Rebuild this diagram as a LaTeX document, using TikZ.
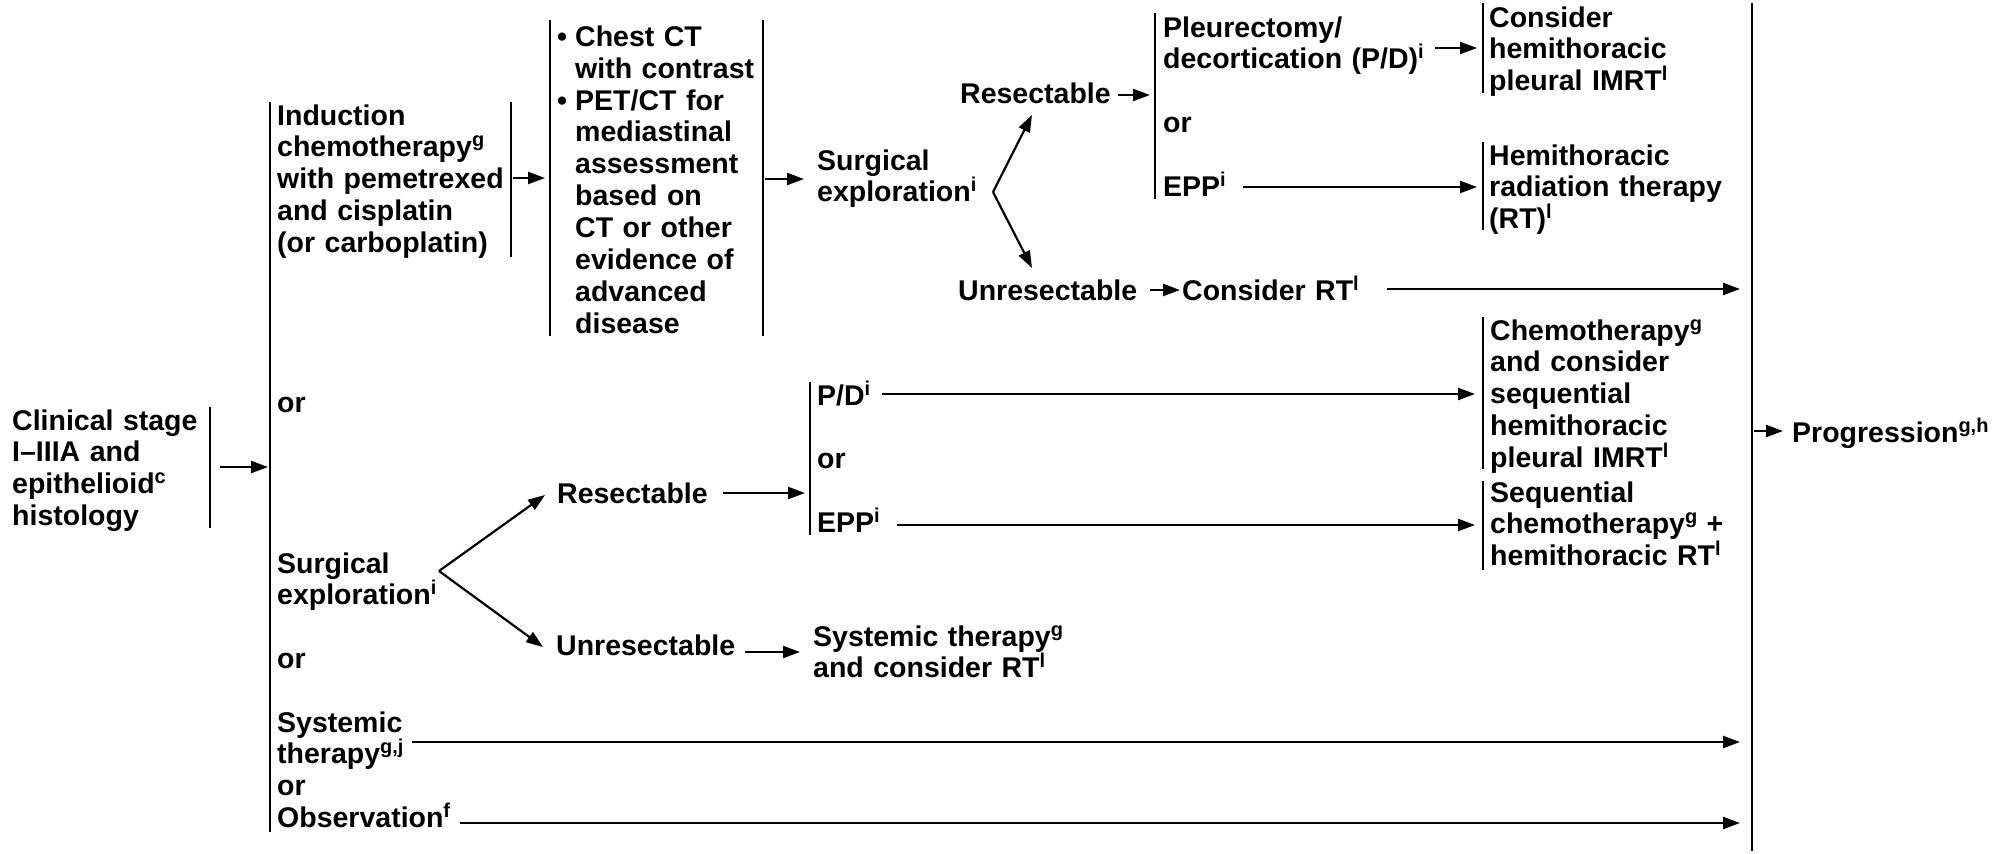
\documentclass[tikz,border=0pt]{standalone}
\usepackage{fontspec}
\setmainfont{Liberation Sans}
\usetikzlibrary{arrows.meta}
\newcommand\sups[1]{\raisebox{10pt}{\fontsize{20pt}{20pt}\selectfont #1}}
\begin{document}
\begin{tikzpicture}[x=1pt,y=-1pt,
  txt/.style={inner sep=0pt, anchor=base west, align=left, text width=330pt,
     font=\fontsize{28.5pt}{31.9pt}\selectfont\bfseries},
  bar/.style={line width=2.6pt},
  arr/.style={line width=2.2pt, -{Triangle[length=17pt,width=12pt]}}]
\useasboundingbox (0,0) rectangle (2011,854);

% ---------- text nodes ----------
\node[txt] (clin) at (12,430) {Clinical stage\\I–IIIA and\\epithelioid\sups{c}\\histology};
\node[txt] (ind) at (277,125) {Induction\\chemotherapy\sups{g}\\with pemetrexed\\and cisplatin\\(or carboplatin)};
\node[txt] (or1) at (277,412) {or};
\node[txt] (surg2) at (277,573) {Surgical\\exploration\sups{i}};
\node[txt] (or2) at (277,668) {or};
\node[txt] (sysobs) at (277,732) {Systemic\\therapy\sups{g,j}\\or\\Observation\sups{f}};
\node[txt] (tests) at (557,46.2) {\makebox[18pt][l]{•}Chest CT\\\hspace*{18pt}with contrast\\\makebox[18pt][l]{•}PET/CT for\\\hspace*{18pt}mediastinal\\\hspace*{18pt}assessment\\\hspace*{18pt}based on\\\hspace*{18pt}CT or other\\\hspace*{18pt}evidence of\\\hspace*{18pt}advanced\\\hspace*{18pt}disease};
\node[txt] (surg1) at (817,170) {Surgical\\exploration\sups{i}};
\node[txt] (res1) at (960,103) {Resectable};
\node[txt] (unres1) at (958,300) {Unresectable};
\node[txt] (pd1) at (1163,37) {Pleurectomy/\\decortication (P/D)\sups{i}\\[31.9pt]or\\[31.9pt]EPP\sups{i}};
\node[txt] (cons1) at (1489,27) {Consider\\hemithoracic\\pleural IMRT\sups{l}};
\node[txt] (hemi) at (1489,165) {Hemithoracic\\radiation therapy\\(RT)\sups{l}};
\node[txt] (consrt) at (1182,300) {Consider RT\sups{l}};
\node[txt] (res2) at (557,503) {Resectable};
\node[txt] (unres2) at (556,655) {Unresectable};
\node[txt] (pd2) at (817,405) {P/D\sups{i}\\[31.9pt]or\\[31.9pt]EPP\sups{i}};
\node[txt] (sysrt) at (813,646) {Systemic therapy\sups{g}\\and consider RT\sups{l}};
\node[txt] (chemo) at (1490,340) {Chemotherapy\sups{g}\\and consider\\sequential\\hemithoracic\\pleural IMRT\sups{l}};
\node[txt] (seq) at (1490,502) {Sequential\\chemotherapy\sups{g} +\\hemithoracic RT\sups{l}};
\node[txt] (prog) at (1792,442) {Progression\sups{g,h}};

% ---------- bars ----------
\coordinate (clT) at (210,407); \coordinate (clB) at (210,528);
\coordinate (mT) at (270,102);  \coordinate (mB) at (270,832);
\coordinate (inT) at (511,102); \coordinate (inB) at (511,257);
\coordinate (t1T) at (550,20);  \coordinate (t1B) at (550,336);
\coordinate (t2T) at (763,20);  \coordinate (t2B) at (763,336);
\coordinate (p1T) at (1155,13); \coordinate (p1B) at (1155,199);
\coordinate (c1T) at (1483,3);  \coordinate (c1B) at (1483,93);
\coordinate (hmT) at (1483,142); \coordinate (hmB) at (1483,230);
\coordinate (p2T) at (810,382); \coordinate (p2B) at (810,535);
\coordinate (chT) at (1483,317); \coordinate (chB) at (1483,469);
\coordinate (sqT) at (1483,481); \coordinate (sqB) at (1483,570);
\coordinate (pgT) at (1752,3);  \coordinate (pgB) at (1752,851);
\foreach \a/\b in {clT/clB,mT/mB,inT/inB,t1T/t1B,t2T/t2B,p1T/p1B,c1T/c1B,hmT/hmB,p2T/p2B,chT/chB,sqT/sqB,pgT/pgB}
  \draw[bar] (\a) -- (\b);

% ---------- connector start points ----------
\coordinate (s1) at (220,467);
\coordinate (s2) at (513,178);
\coordinate (s3) at (765,179);
\coordinate (v1) at (993,192);
\coordinate (r1tip) at (1032,115);
\coordinate (u1tip) at (1032,268);
\coordinate (s5) at (1118,95);
\coordinate (s6) at (1435,48);
\coordinate (s7) at (1243,187);
\coordinate (s8) at (1150,290);
\coordinate (s9) at (1387,289);
\coordinate (v2) at (439,571);
\coordinate (r2tip) at (545,495);
\coordinate (u2tip) at (543,647);
\coordinate (s10) at (723,493);
\coordinate (s11) at (882,394);
\coordinate (s12) at (897,525);
\coordinate (s13) at (745,652);
\coordinate (s14) at (412,742);
\coordinate (s15) at (460,823);
\coordinate (s16) at (1754,431);

% ---------- connectors ----------
\draw[arr] (s1) -- ([xshift=-2pt]s1 -| mT);
\draw[arr] (s2) -- ([xshift=-5pt]s2 -| t1T);
\draw[arr] (s3) -- ([xshift=-13pt]s3 -| surg1.west);
\draw[arr] (v1) -- (r1tip);
\draw[arr] (v1) -- (u1tip);
\draw[arr] (s5) -- ([xshift=-5pt]s5 -| p1T);
\draw[arr] (s6) -- ([xshift=-6pt]s6 -| c1T);
\draw[arr] (s7) -- ([xshift=-6pt]s7 -| hmT);
\draw[arr] (s8) -- ([xshift=-2pt]s8 -| consrt.west);
\draw[arr] (s9) -- ([xshift=-12pt]s9 -| pgT);
\draw[arr] (v2) -- (r2tip);
\draw[arr] (v2) -- (u2tip);
\draw[arr] (s10) -- ([xshift=-5pt]s10 -| p2T);
\draw[arr] (s11) -- ([xshift=-8pt]s11 -| chT);
\draw[arr] (s12) -- ([xshift=-8pt]s12 -| sqT);
\draw[arr] (s13) -- ([xshift=-13pt]s13 -| sysrt.west);
\draw[arr] (s14) -- ([xshift=-12pt]s14 -| pgT);
\draw[arr] (s15) -- ([xshift=-12pt]s15 -| pgT);
\draw[arr] (s16) -- ([xshift=-9pt]s16 -| prog.west);
\end{tikzpicture}
\end{document}
